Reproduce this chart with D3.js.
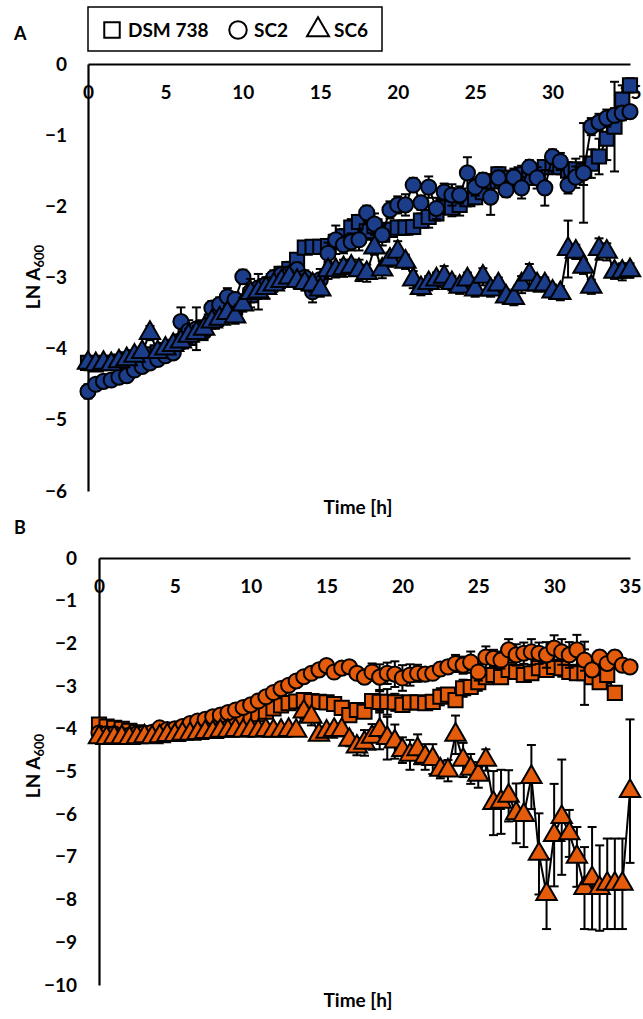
<!DOCTYPE html>
<html>
<head>
<meta charset="utf-8">
<script src="https://cdn.jsdelivr.net/npm/d3@7"></script>
<style>
  body { margin: 0; background: #fff; }
  text { font-family: Lato, "Open Sans", sans-serif; font-weight: 700; }
</style>
</head>
<body>
<script>
// time points (h), one every half hour
var times = [0, 0.5, 1, 1.5, 2, 2.5, 3, 3.5, 4, 4.5, 5, 5.5, 6, 6.5, 7, 7.5, 8, 8.5, 9, 9.5,
  10, 10.5, 11, 11.5, 12, 12.5, 13, 13.5, 14, 14.5, 15, 15.5, 16, 16.5, 17, 17.5, 18, 18.5, 19, 19.5,
  20, 20.5, 21, 21.5, 22, 22.5, 23, 23.5, 24, 24.5, 25, 25.5, 26, 26.5, 27, 27.5, 28, 28.5, 29, 29.5,
  30, 30.5, 31, 31.5, 32, 32.5, 33, 33.5, 34, 34.5, 35];

var xTicks = [0, 5, 10, 15, 20, 25, 30, 35];
var yTicksA = [0, -1, -2, -3, -4, -5, -6];
var yTicksB = [0, -1, -2, -3, -4, -5, -6, -7, -8, -9, -10];
var seriesNames = ["DSM 738", "SC2", "SC6"];

// panel A
var aDsm = [-4.2, -4.22, -4.2, -4.2, -4.18, -4.15, -4.12, -4.1, -4.08, -4.05, -4.02, -3.98, -3.9, -3.85, -3.78, -3.7, -3.62, -3.55, -3.48, -3.42,
  -3.35, -3.25, -3.18, -3.12, -3.05, -2.95, -2.88, -2.75, -2.58, -2.57, -2.57, -2.56, -2.5, -2.42, -2.3, -2.22, -2.35, -2.28, -2.4, -2.33,
  -2.3, -2.3, -2.29, -2.2, -2.15, -2.1, -2.0, -2.02, -1.98, -1.9, -1.87, -1.8, -1.65, -1.55, -1.6, -1.65, -1.55, -1.6, -1.5, -1.45,
  -1.4, -1.45, -1.5, -1.48, -1.5, -1.4, -1.3, -1.05, -0.88, -0.5, -0.3];
var aDsmErr = [0.05, 0.05, 0.05, 0.05, 0.05, 0.05, 0.06, 0.06, 0.06, 0.06, 0.08, 0.08, 0.1, 0.08, 0.08, 0.08, 0.08, 0.08, 0.08, 0.08,
  0.08, 0.1, 0.1, 0.1, 0.1, 0.1, 0.1, 0.08, 0.08, 0.08, 0.08, 0.08, 0.1, 0.1, 0.12, 0.1, 0.12, 0.1, 0.1, 0.1,
  0.1, 0.1, 0.1, 0.1, 0.15, 0.1, 0.1, 0.12, 0.15, 0.1, 0.1, 0.1, 0.1, 0.1, 0.1, 0.1, 0.12, 0.1, 0.1, 0.1,
  0.1, 0.1, 0.12, 0.15, 0.2, 0.2, 0.25, 0.3, 0.63, 0.2, 0.1];
var aSc2 = [-4.6, -4.5, -4.46, -4.44, -4.4, -4.38, -4.3, -4.25, -4.2, -4.15, -4.1, -4.06, -3.62, -3.75, -3.72, -3.76, -3.43, -3.38, -3.27, -3.31,
  -2.99, -3.2, -3.15, -3.1, -3.0, -2.96, -2.95, -2.89, -3.0, -3.2, -3.03, -2.66, -2.47, -2.54, -2.5, -2.47, -2.09, -2.25, -2.4, -2.05,
  -1.98, -1.98, -1.7, -1.95, -1.73, -2.03, -1.8, -1.84, -1.84, -1.53, -1.73, -1.63, -1.87, -1.6, -1.77, -1.59, -1.74, -1.45, -1.6, -1.74,
  -1.3, -1.37, -1.7, -1.59, -1.53, -0.88, -0.82, -0.76, -0.72, -0.69, -0.67];
var aSc2Err = [0.1, 0.06, 0.06, 0.06, 0.06, 0.06, 0.06, 0.06, 0.06, 0.06, 0.08, 0.08, 0.2, 0.15, 0.3, 0.12, 0.1, 0.1, 0.12, 0.1,
  0.1, 0.1, 0.1, 0.1, 0.1, 0.1, 0.1, 0.1, 0.1, 0.15, 0.15, 0.15, 0.2, 0.12, 0.12, 0.15, 0.1, 0.15, 0.15, 0.12,
  0.12, 0.15, 0.1, 0.1, 0.15, 0.15, 0.12, 0.15, 0.12, 0.22, 0.12, 0.1, 0.25, 0.1, 0.1, 0.12, 0.15, 0.1, 0.15, 0.25,
  0.1, 0.12, 0.12, 0.15, 0.7, 0.12, 0.12, 0.12, 0.1, 0.1, 0.08];
var aSc6 = [-4.2, -4.22, -4.2, -4.22, -4.18, -4.15, -4.1, -4.05, -3.78, -4.05, -4.0, -3.95, -3.9, -3.82, -3.78, -3.72, -3.62, -3.58, -3.5, -3.55,
  -3.38, -3.22, -3.2, -3.15, -3.1, -3.05, -3.0, -3.05, -3.08, -3.1, -3.17, -2.9, -2.9, -2.87, -2.85, -2.9, -2.94, -2.58, -2.89, -2.75,
  -2.64, -2.78, -3.03, -3.15, -3.08, -3.03, -2.99, -3.08, -3.13, -3.03, -3.17, -2.99, -3.17, -3.1, -3.27, -3.29, -3.1, -2.96, -3.1, -3.1,
  -3.2, -3.22, -2.6, -2.64, -2.85, -3.13, -2.6, -2.64, -2.92, -2.92, -2.9];
var aSc6Err = [0.06, 0.06, 0.06, 0.06, 0.06, 0.06, 0.08, 0.08, 0.1, 0.08, 0.08, 0.08, 0.1, 0.1, 0.1, 0.1, 0.1, 0.1, 0.1, 0.1,
  0.1, 0.2, 0.25, 0.15, 0.1, 0.1, 0.1, 0.1, 0.1, 0.1, 0.1, 0.12, 0.1, 0.12, 0.1, 0.15, 0.12, 0.1, 0.12, 0.1,
  0.15, 0.1, 0.12, 0.1, 0.1, 0.1, 0.15, 0.1, 0.1, 0.1, 0.1, 0.12, 0.1, 0.1, 0.1, 0.1, 0.12, 0.15, 0.1, 0.1,
  0.1, 0.1, 0.4, 0.1, 0.1, 0.1, 0.15, 0.12, 0.1, 0.12, 0.1];

// panel B
var bDsm = [-3.9, -3.95, -3.98, -4.0, -4.05, -4.08, -4.1, -4.1, -4.08, -4.06, -4.05, -4.02, -4.0, -3.98, -3.95, -3.92, -3.88, -3.85, -3.8, -3.76,
  -3.72, -3.66, -3.6, -3.52, -3.45, -3.4, -3.36, -3.33, -3.35, -3.37, -3.38, -3.42, -3.51, -3.68, -3.56, -3.6, -3.35, -3.37, -3.37, -3.38,
  -3.44, -3.38, -3.38, -3.4, -3.37, -3.25, -3.2, -3.33, -3.05, -3.02, -2.91, -2.79, -2.74, -2.79, -2.62, -2.67, -2.74, -2.7, -2.58, -2.62,
  -2.55, -2.58, -2.67, -2.7, -2.7, -2.79, -2.91, -2.74, -3.16];
var bDsmErr = [0.05, 0.05, 0.05, 0.05, 0.05, 0.05, 0.05, 0.05, 0.05, 0.05, 0.05, 0.05, 0.08, 0.08, 0.08, 0.08, 0.08, 0.08, 0.08, 0.08,
  0.08, 0.1, 0.1, 0.1, 0.1, 0.1, 0.1, 0.1, 0.1, 0.12, 0.1, 0.1, 0.12, 0.1, 0.12, 0.1, 0.15, 0.25, 0.3, 0.2,
  0.15, 0.15, 0.12, 0.15, 0.15, 0.2, 0.15, 0.15, 0.2, 0.15, 0.2, 0.15, 0.15, 0.15, 0.15, 0.15, 0.15, 0.12, 0.15, 0.15,
  0.15, 0.2, 0.15, 0.15, 0.74, 0.15, 0.15, 0.2, 0.1];
var bSc2 = [-4.1, -4.12, -4.12, -4.15, -4.15, -4.12, -4.1, -4.08, -3.98, -4.02, -4.0, -3.95, -3.88, -3.82, -3.78, -3.72, -3.68, -3.62, -3.56, -3.5,
  -3.44, -3.35, -3.25, -3.15, -3.06, -2.98, -2.88, -2.78, -2.7, -2.62, -2.52, -2.67, -2.58, -2.55, -2.7, -2.79, -2.67, -2.79, -2.7, -2.72,
  -2.81, -2.74, -2.7, -2.72, -2.7, -2.6, -2.55, -2.47, -2.51, -2.44, -2.67, -2.32, -2.35, -2.39, -2.15, -2.27, -2.23, -2.2, -2.23, -2.27,
  -2.11, -2.2, -2.27, -2.15, -2.39, -2.62, -2.32, -2.47, -2.32, -2.51, -2.55];
var bSc2Err = [0.05, 0.05, 0.05, 0.05, 0.05, 0.05, 0.05, 0.05, 0.05, 0.05, 0.05, 0.05, 0.08, 0.1, 0.1, 0.1, 0.08, 0.08, 0.08, 0.08,
  0.1, 0.1, 0.1, 0.1, 0.1, 0.1, 0.1, 0.1, 0.1, 0.1, 0.1, 0.1, 0.1, 0.1, 0.1, 0.15, 0.2, 0.3, 0.25, 0.3,
  0.3, 0.25, 0.2, 0.15, 0.12, 0.15, 0.15, 0.2, 0.2, 0.25, 0.2, 0.25, 0.2, 0.2, 0.25, 0.25, 0.25, 0.3, 0.25, 0.3,
  0.3, 0.3, 0.3, 0.35, 0.25, 0.15, 0.15, 0.15, 0.15, 0.15, 0.1];
var bSc6 = [-4.2, -4.22, -4.2, -4.2, -4.22, -4.2, -4.18, -4.2, -4.18, -4.15, -4.15, -4.12, -4.12, -4.1, -4.08, -4.08, -4.05, -4.05, -4.03, -4.05,
  -4.03, -4.05, -4.03, -4.05, -4.05, -4.03, -4.05, -3.6, -3.72, -4.14, -4.07, -4.03, -4.03, -4.26, -4.42, -4.33, -4.19, -4.03, -4.22, -4.3,
  -4.5, -4.61, -4.48, -4.66, -4.71, -4.96, -4.98, -4.14, -4.73, -4.94, -5.08, -4.73, -5.74, -5.71, -5.57, -5.98, -6.02, -5.13, -6.93, -7.87,
  -6.49, -6.07, -6.45, -7.0, -7.73, -7.5, -7.73, -7.63, -7.63, -7.63, -5.46];
var bSc6Err = [0.05, 0.05, 0.05, 0.05, 0.05, 0.05, 0.05, 0.05, 0.05, 0.05, 0.05, 0.05, 0.05, 0.05, 0.15, 0.05, 0.05, 0.05, 0.05, 0.05,
  0.05, 0.05, 0.05, 0.12, 0.05, 0.05, 0.05, 0.15, 0.2, 0.1, 0.1, 0.1, 0.15, 0.15, 0.2, 0.3, 0.3, 0.45, 0.5, 0.4,
  0.3, 0.35, 0.35, 0.3, 0.35, 0.2, 0.25, 0.45, 0.4, 0.35, 0.3, 0.25, 0.75, 0.75, 0.6, 0.7, 0.75, 0.75, 0.95, 0.82,
  1.2, 1.35, 0.55, 0.7, 0.96, 1.2, 1.0, 1.06, 1.06, 1.06, 1.68];

var blue = "#1b3d8a";
var orange = "#e35b0b";

var svg = d3.select("body").append("svg")
  .attr("width", 643)
  .attr("height", 1019);

// shapes for each series
var symbols = [d3.symbolSquare, d3.symbolCircle, d3.symbolTriangle];
var symbolSizes = [200, 180, 180];

function drawPanel(opts) {
  var x = d3.scaleLinear().domain([0, 35]).range([opts.left, 630]);
  var y = d3.scaleLinear().domain([0, opts.ymin]).range([opts.top, opts.bottom]);
  var g = svg.append("g");

  // axes
  var xAxis = g.append("g")
    .attr("transform", "translate(0," + opts.top + ")")
    .call(d3.axisBottom(x).tickValues(xTicks).tickSize(0).tickPadding(22).tickFormat(d3.format("d")));
  var yAxis = g.append("g")
    .attr("transform", "translate(" + opts.left + ",0)")
    .call(d3.axisLeft(y).tickValues(opts.yTicks).tickSize(0).tickPadding(opts.ypad).tickFormat(d3.format("d")));
  [xAxis, yAxis].forEach(function(a) {
    a.select(".domain").attr("stroke", "#000").attr("stroke-width", 2.2);
    a.selectAll("text").attr("font-size", 19).attr("fill", "#000")
      .style("font-family", "Lato, sans-serif").style("font-weight", 700);
  });

  // series
  opts.series.forEach(function(s, k) {
    var pts = s.vals.map(function(v, i) { return { t: times[i], v: v, e: s.errs[i] }; });
    var sg = g.append("g");

    var eb = sg.selectAll("g.err").data(pts).enter().append("g")
      .attr("stroke", "#000").attr("stroke-width", 2);
    eb.append("line")
      .attr("x1", function(d) { return x(d.t); })
      .attr("x2", function(d) { return x(d.t); })
      .attr("y1", function(d) { return y(d.v + d.e); })
      .attr("y2", function(d) { return y(d.v - d.e); });
    eb.append("line")
      .attr("x1", function(d) { return x(d.t) - 4.5; })
      .attr("x2", function(d) { return x(d.t) + 4.5; })
      .attr("y1", function(d) { return y(d.v + d.e); })
      .attr("y2", function(d) { return y(d.v + d.e); });
    eb.append("line")
      .attr("x1", function(d) { return x(d.t) - 4.5; })
      .attr("x2", function(d) { return x(d.t) + 4.5; })
      .attr("y1", function(d) { return y(d.v - d.e); })
      .attr("y2", function(d) { return y(d.v - d.e); });

    sg.append("path")
      .datum(pts)
      .attr("fill", "none")
      .attr("stroke", "#000")
      .attr("stroke-width", 2)
      .attr("d", d3.line().x(function(d) { return x(d.t); }).y(function(d) { return y(d.v); }));

    sg.selectAll("path.mk").data(pts).enter().append("path")
      .attr("class", "mk")
      .attr("transform", function(d) { return "translate(" + x(d.t) + "," + y(d.v) + ")"; })
      .attr("d", d3.symbol().type(symbols[k]).size(symbolSizes[k]))
      .attr("fill", opts.color)
      .attr("stroke", "#000")
      .attr("stroke-width", 2);
  });

  // axis titles
  g.append("text")
    .attr("x", opts.titleX)
    .attr("y", opts.titleY)
    .attr("text-anchor", "middle")
    .attr("font-size", 19)
    .text("Time [h]");

  var yl = g.append("text")
    .attr("transform", "translate(40," + opts.ylabelY + ") rotate(-90)")
    .attr("text-anchor", "middle")
    .attr("font-size", 19);
  yl.append("tspan").text("LN A");
  yl.append("tspan").attr("font-size", 13).attr("dy", 4).text("600");

  g.append("text")
    .attr("x", 14)
    .attr("y", opts.letterY)
    .attr("font-size", 18)
    .text(opts.letter);
}

drawPanel({
  left: 88, top: 64, bottom: 491, ymin: -6, yTicks: yTicksA, ypad: 21,
  color: blue, letter: "A", letterY: 40, titleX: 358, titleY: 514, ylabelY: 277,
  series: [{ vals: aDsm, errs: aDsmErr }, { vals: aSc2, errs: aSc2Err }, { vals: aSc6, errs: aSc6Err }]
});

drawPanel({
  left: 99, top: 558, bottom: 985, ymin: -10, yTicks: yTicksB, ypad: 22,
  color: orange, letter: "B", letterY: 534, titleX: 358, titleY: 1007, ylabelY: 766,
  series: [{ vals: bDsm, errs: bDsmErr }, { vals: bSc2, errs: bSc2Err }, { vals: bSc6, errs: bSc6Err }]
});

// legend
var legend = svg.append("g");
legend.append("rect")
  .attr("x", 88).attr("y", 7).attr("width", 294).attr("height", 44)
  .attr("fill", "#fff").attr("stroke", "#000").attr("stroke-width", 1.5);
var legendX = [112, 238, 318];
seriesNames.forEach(function(name, k) {
  legend.append("path")
    .attr("transform", "translate(" + legendX[k] + ",30)")
    .attr("d", d3.symbol().type(symbols[k]).size(k == 2 ? 210 : 240))
    .attr("fill", "#fff")
    .attr("stroke", "#000")
    .attr("stroke-width", 2);
  legend.append("text")
    .attr("x", legendX[k] + 16)
    .attr("y", 37)
    .attr("font-size", 19)
    .text(name);
});
</script>
</body>
</html>
